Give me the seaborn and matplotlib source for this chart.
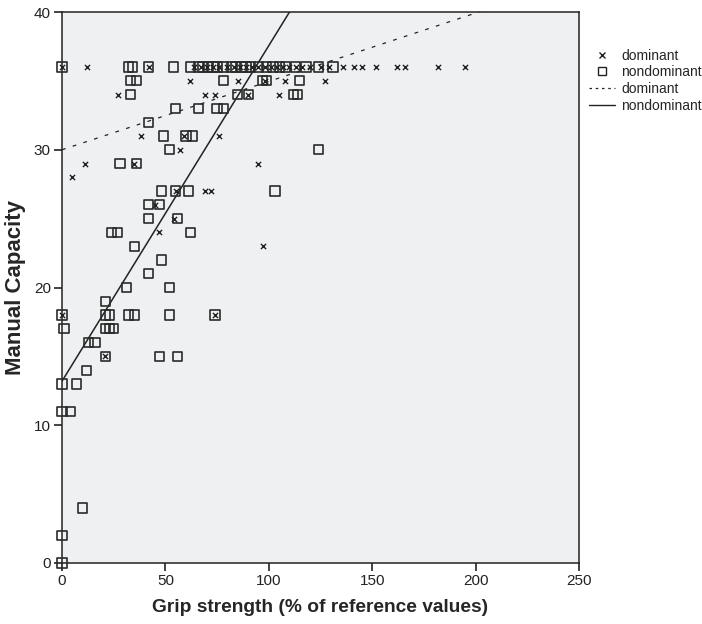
import matplotlib
matplotlib.use('Agg')
import matplotlib.pyplot as plt
from matplotlib.lines import Line2D
import numpy as np
import pandas as pd
import seaborn as sns

# grip strength (% of reference) and manual capacity, dominant hand
dom_grip = [0, 12, 42, 64, 67, 70, 73, 76, 80, 83, 86, 89, 92, 95, 98, 101, 104, 107,
            110, 113, 116, 120, 125, 129, 136, 141, 145, 152, 162, 166, 182, 195,
            62, 85, 98, 108, 127,
            27, 69, 74, 90, 105,
            38, 59, 76,
            57,
            11, 35, 95,
            5,
            55, 69, 72,
            45, 54, 47, 97,
            0, 74,
            21]
dom_capacity = [36] * 32 + [35] * 5 + [34] * 5 + [31] * 3 + [30] + [29] * 3 + [28] + \
               [27] * 3 + [26, 25, 24, 23] + [18] * 2 + [15]

# nondominant hand
nondom_grip = [0, 32, 34, 42, 54, 62, 66, 68, 71, 73, 75, 78, 82, 84, 87, 89, 91, 95,
               99, 102, 105, 108, 113, 118, 124, 131,
               33, 36, 78, 97, 99, 115,
               33, 85, 90, 112, 114,
               55, 66, 75, 78,
               42,
               49, 60, 63,
               52, 124,
               28, 36,
               48, 55, 61, 103,
               42, 47,
               42, 56,
               24, 27, 62,
               35, 48, 42,
               31, 52,
               21,
               0, 21, 23, 32, 35, 52, 74,
               1, 21, 23, 25,
               13, 16,
               21, 47, 56,
               12,
               0, 7,
               0, 4,
               10, 0, 0]
nondom_capacity = [36] * 26 + [35] * 6 + [34] * 5 + [33] * 4 + [32] + [31] * 3 + \
                  [30] * 2 + [29] * 2 + [27] * 4 + [26] * 2 + [25] * 2 + [24] * 3 + \
                  [23, 22, 21] + [20] * 2 + [19] + [18] * 7 + [17] * 4 + [16] * 2 + \
                  [15] * 3 + [14] + [13] * 2 + [11] * 2 + [4, 2, 0]

# linear fit lines (intercept, slope) as shown in the chart
dom_fit = (30.0, 0.0496)
nondom_fit = (13.2, 0.2436)

sns.set_style('white')
plt.rcParams['font.family'] = ['Liberation Sans', 'DejaVu Sans']

dom = pd.DataFrame({'grip': dom_grip, 'capacity': dom_capacity})
nondom = pd.DataFrame({'grip': nondom_grip, 'capacity': nondom_capacity})

fig = plt.figure(figsize=(7.02, 6.24), dpi=100)
ax = fig.add_axes([62 / 702, 1 - 563 / 624, (579 - 62) / 702, (563 - 12) / 624])
ax.set_facecolor('#eff0f2')

sns.scatterplot(data=nondom, x='grip', y='capacity', marker='s', s=44,
                facecolor='none', edgecolor='#2a2a2a', linewidth=1.2, ax=ax,
                clip_on=False, zorder=3)
sns.scatterplot(data=dom, x='grip', y='capacity', marker='x', s=14,
                color='#222222', linewidth=1.0, ax=ax, clip_on=False, zorder=4)

xs = np.array([0, 250])
ax.plot(xs, dom_fit[0] + dom_fit[1] * xs, color='#222222', lw=0.9,
        linestyle=(0, (3, 6)))
ax.plot(xs, nondom_fit[0] + nondom_fit[1] * xs, color='#222222', lw=1.1)

ax.set_xlim(0, 250)
ax.set_ylim(0, 40)
ax.set_xticks([0, 50, 100, 150, 200, 250])
ax.set_yticks([0, 10, 20, 30, 40])
ax.tick_params(axis='both', direction='out', length=6, width=1.2, labelsize=11,
               colors='#222222', left=True, bottom=True, pad=2)
for sp in ax.spines.values():
    sp.set_color('#222222')
    sp.set_linewidth(1.1)

ax.set_xlabel('Grip strength (% of reference values)', fontsize=13.8,
              fontweight='bold', labelpad=8)
ax.set_ylabel('Manual Capacity', fontsize=16, fontweight='bold', labelpad=6)

handles = [
    Line2D([], [], marker='x', color='#222222', linestyle='none', markersize=4),
    Line2D([], [], marker='s', markerfacecolor='none', markeredgecolor='#222222',
           linestyle='none', markersize=6),
    Line2D([], [], color='#222222', lw=0.9, linestyle=(0, (2, 3))),
    Line2D([], [], color='#222222', lw=1.0),
]
labels = ['dominant', 'nondominant', 'dominant', 'nondominant']
fig.legend(handles, labels, loc='upper left', bbox_to_anchor=(583 / 702, 1 - 43 / 624),
           frameon=False, fontsize=10, handlelength=1.9, handletextpad=0.45,
           labelspacing=0.2, borderaxespad=0)

fig.savefig('out.png', dpi=100)
